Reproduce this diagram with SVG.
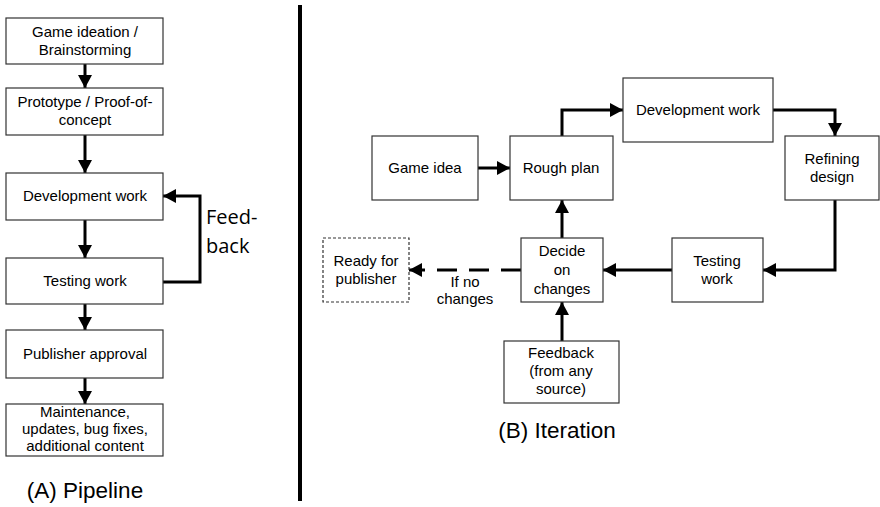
<svg xmlns="http://www.w3.org/2000/svg" width="880" height="507" viewBox="0 0 880 507">
<style>
.box{fill:#fff;stroke:#333;stroke-width:1.2}
.dbox{fill:#fff;stroke:#333;stroke-width:1.2;stroke-dasharray:3 2}
.t{font-family:Arial,"Liberation Sans",sans-serif;font-size:15px;fill:#000;text-anchor:middle}
.big{font-family:Arial,"Liberation Sans",sans-serif;font-size:22.5px;fill:#000;text-anchor:middle}
.fb{font-family:"Open Sans","Noto Sans",sans-serif;font-size:20px;fill:#000}
.c{fill:none;stroke:#000;stroke-width:3}
.dash{fill:none;stroke:#000;stroke-width:3;stroke-dasharray:20 12}
</style>
<defs>
<marker id="ah" markerUnits="userSpaceOnUse" markerWidth="13" markerHeight="14" refX="13" refY="7" orient="auto">
<path d="M0,0 L13,7 L0,14 z" fill="#000"/>
</marker>
</defs>
<rect width="880" height="507" fill="#fff"/>
<line x1="300" y1="5" x2="300" y2="501" stroke="#000" stroke-width="4"/>
<g id="connectors">
<line class="c" x1="85" y1="64" x2="85" y2="88" marker-end="url(#ah)"/>
<line class="c" x1="85" y1="135" x2="85" y2="173" marker-end="url(#ah)"/>
<line class="c" x1="85" y1="220" x2="85" y2="258" marker-end="url(#ah)"/>
<line class="c" x1="85" y1="304" x2="85" y2="330" marker-end="url(#ah)"/>
<line class="c" x1="85" y1="378" x2="85" y2="404" marker-end="url(#ah)"/>
<polyline class="c" points="163,282 200,282 200,196 163,196" marker-end="url(#ah)"/>
<line class="c" x1="478" y1="168" x2="510" y2="168" marker-end="url(#ah)"/>
<polyline class="c" points="562,136 562,110 623,110" marker-end="url(#ah)"/>
<polyline class="c" points="773,110 835,110 835,136" marker-end="url(#ah)"/>
<polyline class="c" points="835,200 835,270 763,270" marker-end="url(#ah)"/>
<line class="c" x1="672" y1="270" x2="603" y2="270" marker-end="url(#ah)"/>
<line class="c" x1="562" y1="238" x2="562" y2="200" marker-end="url(#ah)"/>
<line class="c" x1="562" y1="341" x2="562" y2="302" marker-end="url(#ah)"/>
<line class="dash" x1="521" y1="270" x2="409" y2="270" marker-end="url(#ah)"/>
</g>
<g id="a1"><rect class="box" x="6" y="18" width="157" height="46"/><text class="t" x="85" y="37">Game ideation /</text><text class="t" x="85" y="55">Brainstorming</text></g>
<g id="a2"><rect class="box" x="6" y="88" width="157" height="47"/><text class="t" x="85" y="107">Prototype / Proof-of-</text><text class="t" x="85" y="125">concept</text></g>
<g id="a3"><rect class="box" x="6" y="173" width="157" height="47"/><text class="t" x="85" y="201">Development work</text></g>
<g id="a4"><rect class="box" x="6" y="258" width="157" height="46"/><text class="t" x="85" y="286">Testing work</text></g>
<g id="a5"><rect class="box" x="6" y="330" width="157" height="48"/><text class="t" x="85" y="359">Publisher approval</text></g>
<g id="a6"><rect class="box" x="6" y="404" width="157" height="52"/><text class="t" x="85" y="417">Maintenance,</text><text class="t" x="85" y="434">updates, bug fixes,</text><text class="t" x="85" y="451">additional content</text></g>
<g id="feedback-label"><text class="fb" x="206" y="224">Feed-</text><text class="fb" x="206" y="253">back</text></g>
<text class="big" x="85" y="498">(A) Pipeline</text>
<g id="b-game"><rect class="box" x="372" y="136" width="106" height="64"/><text class="t" x="425" y="173">Game idea</text></g>
<g id="b-rough"><rect class="box" x="510" y="136" width="103" height="64"/><text class="t" x="561" y="173">Rough plan</text></g>
<g id="b-dev"><rect class="box" x="623" y="78" width="150" height="64"/><text class="t" x="698" y="115">Development work</text></g>
<g id="b-refine"><rect class="box" x="785" y="136" width="94" height="64"/><text class="t" x="832" y="164">Refining</text><text class="t" x="832" y="182">design</text></g>
<g id="b-test"><rect class="box" x="672" y="238" width="91" height="64"/><text class="t" x="717" y="266">Testing</text><text class="t" x="717" y="284">work</text></g>
<g id="b-decide"><rect class="box" x="521" y="238" width="82" height="64"/><text class="t" x="562" y="256">Decide</text><text class="t" x="562" y="275">on</text><text class="t" x="562" y="294">changes</text></g>
<g id="b-ready"><rect class="dbox" x="323" y="238" width="86" height="64"/><text class="t" x="366" y="266">Ready for</text><text class="t" x="366" y="284">publisher</text></g>
<g id="b-feedback"><rect class="box" x="504" y="341" width="115" height="62"/><text class="t" x="561" y="358">Feedback</text><text class="t" x="561" y="376">(from any</text><text class="t" x="561" y="394">source)</text></g>
<text class="t" x="465" y="287">If no</text>
<text class="t" x="465" y="304">changes</text>
<text class="big" x="557" y="438">(B) Iteration</text>
</svg>
